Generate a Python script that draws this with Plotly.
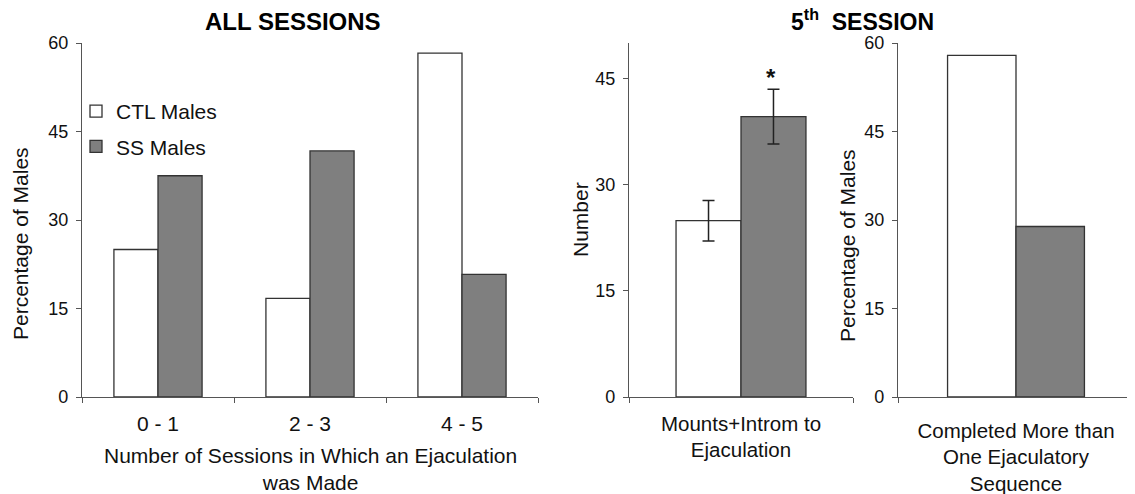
import plotly.graph_objects as go

# ---- data ----
groups = ["CTL Males", "SS Males"]
sessions_cats = ["0 - 1", "2 - 3", "4 - 5"]
all_ctl = [25.0, 16.7, 58.3]
all_ss = [37.5, 41.7, 20.8]

mounts_cat = ["Mounts+Introm to<br>Ejaculation"]
mounts_ctl = [24.9]
mounts_ctl_err = [2.85]
mounts_ss = [39.6]
mounts_ss_err = [3.85]

seq_cat = ["Completed More than<br>One Ejaculatory<br>Sequence"]
seq_ctl = [57.9]
seq_ss = [28.9]

# page body has an 8px margin -> figure is drawn offset by 8px
OFF = 8
W, H = 1135 - OFF, 494 - OFF
FONT = "Liberation Sans, Arial, sans-serif"
white = "#ffffff"
grey = "#7f7f7f"
edge = "#333333"
axcol = "#555555"
txt = "#111111"

fig = go.Figure()

def bars(x, y, name, color, xa, ya, show, err=None):
    fig.add_trace(go.Bar(
        x=x, y=y, name=name, marker=dict(color=color, line=dict(color=edge, width=1.3)),
        xaxis=xa, yaxis=ya, showlegend=show, offsetgroup=name, legendgroup=name,
        error_y=(dict(type="data", array=err, color="#222222", thickness=1.5, width=6) if err else None),
    ))

bars(sessions_cats, all_ctl, groups[0], white, "x", "y", True)
bars(sessions_cats, all_ss, groups[1], grey, "x", "y", True)
bars(mounts_cat, mounts_ctl, groups[0], white, "x2", "y2", False, mounts_ctl_err)
bars(mounts_cat, mounts_ss, groups[1], grey, "x2", "y2", False, mounts_ss_err)
bars(seq_cat, seq_ctl, groups[0], white, "x3", "y3", False)
bars(seq_cat, seq_ss, groups[1], grey, "x3", "y3", False)

def px_x(p):
    return (p - OFF) / W

def px_y(p):
    return 1 - (p - OFF) / H

y_dom = [px_y(397), px_y(43)]

xcommon = dict(type="category", showline=True, linecolor=axcol, linewidth=1.2, ticks="outside",
               tickson="boundaries", ticklen=5, tickcolor=axcol, showgrid=False, zeroline=False,
               tickfont=dict(size=21, color=txt, family=FONT), automargin=False)
ycommon = dict(showline=True, linecolor=axcol, linewidth=1.2, ticks="outside", ticklen=5,
               tickcolor=axcol, showgrid=False, zeroline=False, domain=y_dom, ticklabelstandoff=4,
               tickfont=dict(size=18, color=txt, family=FONT), automargin=False)

fig.update_layout(
    width=W, height=H,
    margin=dict(l=0, r=0, t=0, b=0),
    paper_bgcolor="white", plot_bgcolor="white",
    font=dict(family=FONT, color=txt),
    barmode="group", bargap=0.42, bargroupgap=0,
    xaxis=dict(xcommon, domain=[px_x(82), px_x(538)], anchor="y", ticklabelstandoff=8),
    yaxis=dict(ycommon, range=[0, 60], tickvals=[0, 15, 30, 45, 60], anchor="x"),
    xaxis2=dict(xcommon, domain=[px_x(629), px_x(853)], anchor="y2", ticklabelstandoff=8,
                tickfont=dict(size=20.5, color=txt, family=FONT)),
    yaxis2=dict(ycommon, range=[0, 50], tickvals=[0, 15, 30, 45], anchor="x2"),
    xaxis3=dict(xcommon, domain=[px_x(898), px_x(1134)], anchor="y3", ticklabelstandoff=15,
                tickfont=dict(size=20.5, color=txt, family=FONT)),
    yaxis3=dict(ycommon, range=[0, 60], tickvals=[0, 15, 30, 45, 60], anchor="x3"),
    legend=dict(x=px_x(76), y=px_y(91), xanchor="left", yanchor="top",
                font=dict(size=21, family=FONT, color=txt),
                bgcolor="rgba(0,0,0,0)", tracegroupgap=5, itemwidth=30),
)

def note(text, x, y, size=21, angle=0, color=txt):
    return dict(text=text, x=px_x(x), y=px_y(y), xref="paper", yref="paper",
                xanchor="center", yanchor="middle", textangle=angle, showarrow=False,
                font=dict(size=size, family=FONT, color=color))

ann = [
    note("<b>ALL SESSIONS</b>", 293, 22, size=24, color="#000000"),
    note("<b>5<sup>th</sup>  SESSION</b>", 862, 20, size=23, color="#000000"),
    note("Percentage of Males", 20, 244, angle=-90),
    note("Number", 580, 220, angle=-90),
    note("Percentage of Males", 847, 246, angle=-90),
    note("Number of Sessions in Which an Ejaculation<br>was Made", 310, 469),
    dict(text="<b>*</b>", x=mounts_cat[0], y=mounts_ss[0] + mounts_ss_err[0], xref="x2", yref="y2",
         xshift=30, yshift=-4, xanchor="center", yanchor="bottom", showarrow=False,
         font=dict(size=24, family=FONT, color=txt)),
]
fig.update_layout(annotations=ann)

fig.write_html("out.html")
